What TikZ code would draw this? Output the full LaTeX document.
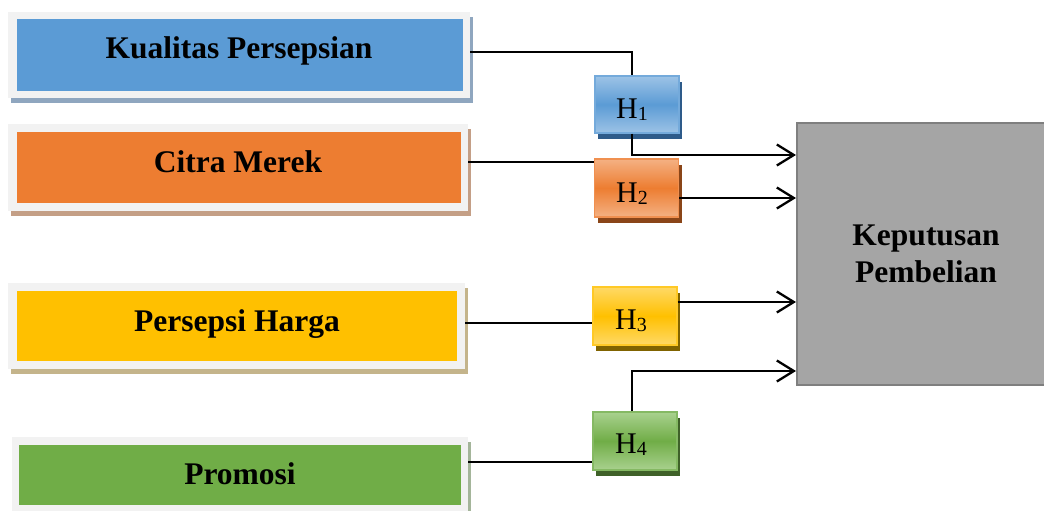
\documentclass[tikz,border=0pt]{standalone}
\usepackage{fontspec}
\setmainfont{Liberation Serif}
\usetikzlibrary{arrows.meta,shadows}

\definecolor{framegray}{HTML}{F2F2F2}
\definecolor{kqblue}{HTML}{5B9BD5}
\definecolor{cmorange}{HTML}{ED7D31}
\definecolor{phyellow}{HTML}{FFC000}
\definecolor{prgreen}{HTML}{70AD47}
\definecolor{kqshadow}{HTML}{8FA6BF}
\definecolor{cmshadow}{HTML}{C49F86}
\definecolor{phshadow}{HTML}{C4B48B}
\definecolor{prshadow}{HTML}{A4B59A}
\definecolor{hblight}{HTML}{9DC3E6}
\definecolor{hbdark}{HTML}{2E5B8A}
\definecolor{holight}{HTML}{F4B183}
\definecolor{hodark}{HTML}{8A4518}
\definecolor{hylight}{HTML}{FFD966}
\definecolor{hydark}{HTML}{806300}
\definecolor{hglight}{HTML}{A9D18E}
\definecolor{hgdark}{HTML}{3F6129}
\definecolor{kepfill}{HTML}{A5A5A5}
\definecolor{kepline}{HTML}{7F7F7F}

\newcommand\hsub[1]{\raisebox{-2.5pt}{\fontsize{20}{21}\selectfont #1}}

\tikzset{
  varframe/.style={rectangle, inner sep=0pt, fill=framegray,
    drop shadow={shadow xshift=3pt, shadow yshift=-5pt, opacity=1, fill=#1}},
  varfill/.style={rectangle, inner sep=0pt, fill=#1},
  varlabel/.style={anchor=base, inner sep=0pt,
    font=\fontsize{31.5}{37}\selectfont\bfseries},
  hbox/.style n args={3}{rectangle, inner sep=0pt, minimum width=84pt,
    minimum height=57pt, draw=#1!85!white, line width=1.3pt,
    top color=#2, bottom color=#2, middle color=#1,
    drop shadow={shadow xshift=3pt, shadow yshift=-6pt, opacity=1, fill=#3}},
  hlabel/.style={anchor=base, inner sep=0pt, font=\fontsize{30}{31}\selectfont},
  kbox/.style={rectangle, inner sep=0pt, fill=kepfill, draw=kepline,
    line width=2pt, align=center, minimum width=258pt, minimum height=262pt,
    font=\fontsize{31.5}{37}\selectfont\bfseries},
  conn/.style={line width=2.3pt, black},
  arr/.style={conn, -{Straight Barb[length=17pt, width=21pt]}}
}

\begin{document}
\begin{tikzpicture}[x=1pt,y=-1pt]
\useasboundingbox (0,0) rectangle (1044,511);
\clip (0,0) rectangle (1044,511);

% independent variables: framed coloured panels
\node[varframe=kqshadow, minimum width=462pt, minimum height=86pt] (kual) at (239,55) {};
\node[varfill=kqblue, minimum width=446pt, minimum height=72pt] (kualIn) at (240,55) {};
\node[varlabel] (kualT) at (239,59) {Kualitas Persepsian};

\node[varframe=cmshadow, minimum width=460pt, minimum height=87pt] (cit) at (238,167.5) {};
\node[varfill=cmorange, minimum width=444pt, minimum height=71pt] (citIn) at (239,167.5) {};
\node[varlabel] (citT) at (238,172) {Citra Merek};

\node[varframe=phshadow, minimum width=457pt, minimum height=86pt] (pers) at (236.5,326) {};
\node[varfill=phyellow, minimum width=440pt, minimum height=70pt] (persIn) at (237,326) {};
\node[varlabel] (persT) at (237,331) {Persepsi Harga};

\node[varframe=prshadow, minimum width=456pt, minimum height=76pt] (prom) at (240,475) {};
\node[varfill=prgreen, minimum width=442pt, minimum height=60pt] (promIn) at (240,475) {};
\node[varlabel] (promT) at (240,484) {Promosi};

% dependent variable
\node[kbox] (kep) at (926,254) {Keputusan\\Pembelian};

% hypothesis boxes
\node[hbox={kqblue}{hblight}{hbdark}] (h1) at (637,104.5) {};
\node[hbox={cmorange}{holight}{hodark}, minimum height=58pt] (h2) at (636.5,188) {};
\node[hbox={phyellow}{hylight}{hydark}, minimum height=58pt] (h3) at (635,316) {};
\node[hbox={prgreen}{hglight}{hgdark}, minimum height=58pt] (h4) at (635,441) {};

\node[hlabel] (h1t) at (632,118) {H\hsub{1}};
\node[hlabel] (h2t) at (632,202) {H\hsub{2}};
\node[hlabel] (h3t) at (631,329) {H\hsub{3}};
\node[hlabel] (h4t) at (631,453) {H\hsub{4}};

% connectors
\draw[conn] (kual.east |- 0,52) -| (h1.north -| 632,0);
\draw[arr] (h1.south -| 632,0) |- (kep.west |- 0,155);
\draw[conn] (cit.east |- 0,162) -- (h2.west |- 0,162);
\draw[arr] (h2.east |- 0,198) -- (kep.west |- 0,198);
\draw[conn] (pers.east |- 0,323) -- (h3.west |- 0,323);
\draw[arr] (h3.east |- 0,302) -- (kep.west |- 0,302);
\draw[conn] (prom.east |- 0,462) -- (h4.west |- 0,462);
\draw[arr] (h4.north -| 632,0) |- (kep.west |- 0,371);
\end{tikzpicture}
\end{document}
